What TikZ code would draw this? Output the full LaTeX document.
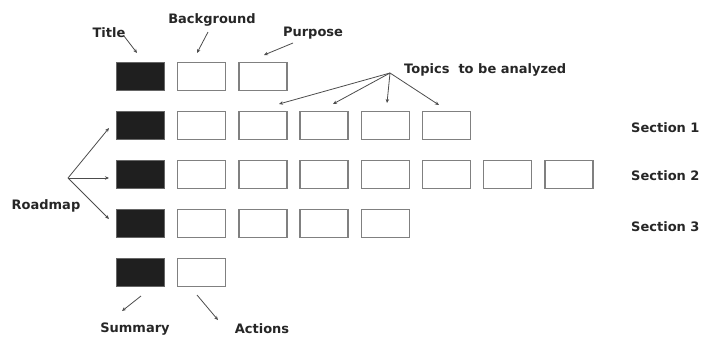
\documentclass[tikz,border=0pt]{standalone}
\usepackage{fontspec}
\setmainfont{DejaVu Sans}
\usetikzlibrary{arrows.meta}
\begin{document}
\begin{tikzpicture}[x=1pt,y=-1pt,
  wbox/.style={draw=black!50,line width=1.3pt,fill=white,minimum width=48pt,minimum height=28pt,inner sep=0pt},
  bbox/.style={wbox,fill=black!88,draw=black!60},
  lbl/.style={font=\bfseries\fontsize{13}{15}\selectfont,text=black!85,inner sep=0pt},
  arr/.style={draw=black!70,line width=0.8pt,-{Stealth[length=4pt,width=3.5pt]}}]
\useasboundingbox (0,0) rectangle (706,338);
% boxes
\foreach \r/\n in {0/2,1/5,2/7,3/4,4/1}{
  \node[bbox] (b\r-0) at (140.5,{76.5+49*\r}) {};
  \foreach \c in {1,...,\n}{
    \node[wbox] (b\r-\c) at ({140.5+61.2*\c},{76.5+49*\r}) {};
  }
}
% labels
\node[lbl] (title) at (109,33) {Title};
\node[lbl] (backg) at (212,20) {Background};
\node[lbl] (purp) at (313,33) {Purpose};
\node[lbl,anchor=west] (topics) at (404,70) {Topics\ \ to be analyzed};
\node[lbl,anchor=west] (s1) at (631,128) {Section 1};
\node[lbl,anchor=west] (s2) at (631,176) {Section 2};
\node[lbl,anchor=west] (s3) at (631,227) {Section 3};
\node[lbl] (road) at (46,206) {Roadmap};
\node[lbl] (summ) at (135,329) {Summary};
\node[lbl] (act) at (262,329) {Actions};
% arrow points
\coordinate (t0) at (124,36); \coordinate (t1) at (137,53);
\coordinate (g0) at (208,32); \coordinate (g1) at (197,53);
\coordinate (p0) at (293,43); \coordinate (p1) at (264,55);
\coordinate (tp) at (390,73);
\coordinate (tp1) at (279,104); \coordinate (tp2) at (333,104);
\coordinate (tp3) at (387,103); \coordinate (tp4) at (439,105);
\coordinate (r0) at (68,178);
\coordinate (r1) at (109,128); \coordinate (r2) at (109,178); \coordinate (r3) at (109,219);
\coordinate (m0) at (141,296); \coordinate (m1) at (122,311);
\coordinate (a0) at (197,295); \coordinate (a1) at (218,320);
\draw[arr] (t0) -- (t1);
\draw[arr] (g0) -- (g1);
\draw[arr] (p0) -- (p1);
\foreach \k in {1,2,3,4} \draw[arr] (tp) -- (tp\k);
\foreach \k in {1,2,3} \draw[arr] (r0) -- (r\k);
\draw[arr] (m0) -- (m1);
\draw[arr] (a0) -- (a1);
\end{tikzpicture}
\end{document}
